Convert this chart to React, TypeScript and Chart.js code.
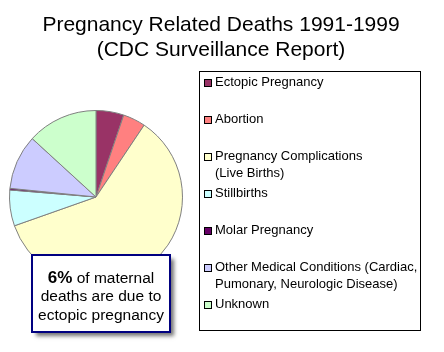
import React, { useEffect, useRef } from "react";
import { Chart, registerables } from "chart.js";

Chart.register(...registerables);

const titleLines = ["Pregnancy Related Deaths 1991-1999", "(CDC Surveillance Report)"];
const categories = [
  "Ectopic Pregnancy",
  "Abortion",
  "Pregnancy Complications (Live Births)",
  "Stillbirths",
  "Molar Pregnancy",
  "Other Medical Conditions (Cardiac, Pumonary, Neurologic Disease)",
  "Unknown",
];
const legendLines = [
  ["Ectopic Pregnancy"],
  ["Abortion"],
  ["Pregnancy Complications", "(Live Births)"],
  ["Stillbirths"],
  ["Molar Pregnancy"],
  ["Other Medical Conditions (Cardiac,", "Pumonary, Neurologic Disease)"],
  ["Unknown"],
];
const values = [5.2, 4.2, 60.2, 6.7, 0.3, 10.2, 13.2];
const colors = ["#993366", "#FF8080", "#FFFFCC", "#CCFFFF", "#660066", "#CCCCFF", "#CCFFCC"];
const noteBold = "6%";
const noteLines = [" of maternal", "deaths are due to", "ectopic pregnancy"];

const FONT = '"Liberation Sans", Arial, sans-serif';

const overlayPlugin = {
  id: "overlay",
  afterDraw(chart: any) {
    const ctx = chart.ctx as CanvasRenderingContext2D;
    ctx.save();
    // Title
    ctx.fillStyle = "#000";
    ctx.font = `21px ${FONT}`;
    ctx.textAlign = "center";
    ctx.textBaseline = "alphabetic";
    ctx.fillText(titleLines[0], 221, 30.5);
    ctx.fillText(titleLines[1], 221, 55.5);

    // Legend box
    ctx.fillStyle = "#fff";
    ctx.fillRect(199.5, 71.5, 221, 259);
    ctx.strokeStyle = "#000";
    ctx.lineWidth = 1;
    ctx.strokeRect(199.5, 71.5, 221, 259);
    ctx.font = `13px ${FONT}`;
    ctx.textAlign = "left";
    ctx.textBaseline = "middle";
    legendLines.forEach((lines, i) => {
      const y = 82.8 + 37 * i;
      const top = Math.round(y) - 3.5;
      ctx.fillStyle = colors[i];
      ctx.fillRect(204.5, top, 7, 7);
      ctx.strokeStyle = "#000";
      ctx.strokeRect(204.5, top, 7, 7);
      ctx.fillStyle = "#000";
      lines.forEach((t, j) => ctx.fillText(t, 215, y + j * 16.7));
    });

    // Note box
    ctx.save();
    ctx.shadowColor = "rgba(0,0,0,0.55)";
    ctx.shadowBlur = 4;
    ctx.shadowOffsetX = 4;
    ctx.shadowOffsetY = 4;
    ctx.fillStyle = "#fff";
    ctx.fillRect(32, 255, 138, 77);
    ctx.restore();
    ctx.strokeStyle = "#000080";
    ctx.lineWidth = 2;
    ctx.strokeRect(32, 255, 138, 77);
    ctx.fillStyle = "#000";
    ctx.textBaseline = "middle";
    const cx = 101;
    ctx.font = `bold 17px ${FONT}`;
    const wb = ctx.measureText(noteBold).width;
    ctx.font = `15.5px ${FONT}`;
    const wr = ctx.measureText(noteLines[0]).width;
    const x0 = cx - (wb + wr) / 2;
    ctx.textAlign = "left";
    ctx.font = `bold 17px ${FONT}`;
    ctx.fillText(noteBold, x0, 278.5);
    ctx.font = `15.5px ${FONT}`;
    ctx.fillText(noteLines[0], x0 + wb, 278.5);
    ctx.textAlign = "center";
    ctx.fillText(noteLines[1], cx, 297);
    ctx.fillText(noteLines[2], cx, 315.3);
    ctx.restore();
  },
};

export default function App() {
  const ref = useRef<HTMLCanvasElement | null>(null);
  useEffect(() => {
    if (!ref.current) return;
    const chart = new Chart(ref.current, {
      type: "pie",
      data: {
        labels: categories,
        datasets: [
          {
            data: values,
            backgroundColor: colors,
            borderColor: "#808080",
            borderWidth: 1,
          },
        ],
      },
      options: {
        responsive: false,
        animation: false,
        layout: { padding: { left: 9, top: 110, right: 261, bottom: 68 } },
        plugins: {
          legend: { display: false },
          title: { display: false },
          tooltip: { enabled: false },
        },
      },
      plugins: [overlayPlugin],
    });
    return () => chart.destroy();
  }, []);
  return (
    <div style={{ position: "absolute", left: 0, top: 0, width: 444, height: 352, background: "#fff" }}>
      <canvas ref={ref} width={444} height={352} />
    </div>
  );
}
